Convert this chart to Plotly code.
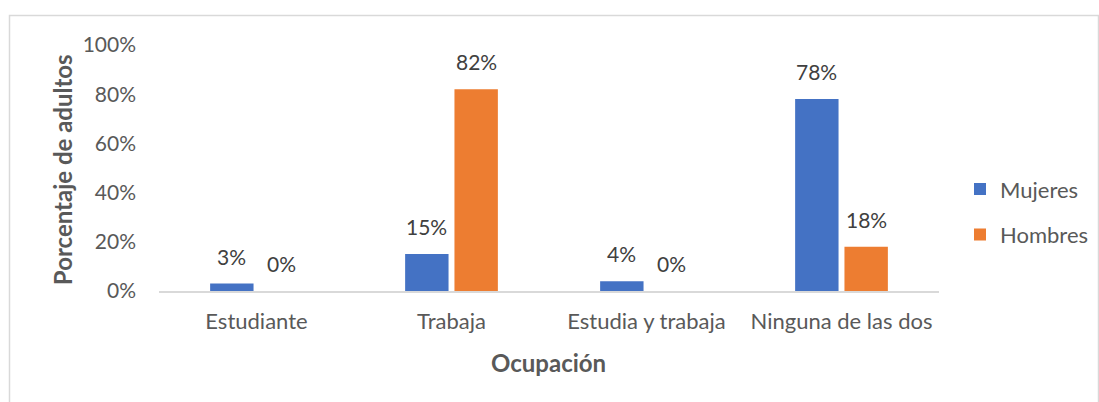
import plotly.graph_objects as go

categories = ["Estudiante", "Trabaja", "Estudia y trabaja", "Ninguna de las dos"]
mujeres = [0.03, 0.15, 0.04, 0.78]
hombres = [0.00, 0.82, 0.00, 0.18]
y_ticks = [0, 0.2, 0.4, 0.6, 0.8, 1.0]
y_tick_labels = ["0%", "20%", "40%", "60%", "80%", "100%"]

W, H = 1099, 402
L, R, T, B = 159, 939, 45, 290.7
FONT = "Lato"
FS = 22

def px_x(p):
    return (p - L) / (R - L)

def px_y(p):
    return (B - p) / (B - T)

fig = go.Figure()
fig.add_trace(go.Bar(name="Mujeres", x=categories, y=mujeres, marker_color="#4472C4",
                     marker_line_width=0, legendgroup="m"))
fig.add_trace(go.Bar(name="Hombres", x=categories, y=hombres, marker_color="#ED7D31",
                     marker_line_width=0, legendgroup="h"))

annotations = []
for series, shift in ((mujeres, -24.6), (hombres, 24.6)):
    for c, v in zip(categories, series):
        annotations.append(dict(x=c, y=v, xref="x", yref="y", text=f"{round(v*100)}%",
                                showarrow=False, xshift=shift, yanchor="bottom", yshift=13,
                                font=dict(family=FONT, size=21, color="#404040")))

annotations.append(dict(x=px_x(548.5), y=px_y(362), xref="paper", yref="paper",
                        text="<b>Ocupación</b>", showarrow=False, xanchor="center", yanchor="middle",
                        font=dict(family=FONT, size=24, color="#595959")))
annotations.append(dict(x=px_x(62), y=px_y(170), xref="paper", yref="paper",
                        text="<b>Porcentaje de adultos</b>", showarrow=False, textangle=-90,
                        xanchor="center", yanchor="middle",
                        font=dict(family=FONT, size=24, color="#595959")))

fig.update_layout(
    width=W, height=H, autosize=False,
    margin=dict(l=L, r=W - R, t=T, b=H - B, pad=0, autoexpand=False),
    paper_bgcolor="white", plot_bgcolor="white",
    barmode="group", bargap=0.494, bargroupgap=0.12,
    font=dict(family=FONT, size=FS, color="#595959"),
    showlegend=True,
    legend=dict(x=px_x(960), y=px_y(168), xanchor="left", yanchor="top",
                traceorder="grouped", tracegroupgap=14,
                font=dict(family=FONT, size=FS, color="#595959"),
                bgcolor="rgba(0,0,0,0)"),
    annotations=annotations,
    shapes=[dict(type="rect", xref="paper", yref="paper",
                 x0=px_x(9.5), x1=px_x(1098.5), y0=px_y(430), y1=px_y(15.5),
                 line=dict(color="#D9D9D9", width=1.5), fillcolor="rgba(0,0,0,0)", layer="below")],
)
fig.update_xaxes(showline=True, linecolor="#D9D9D9", linewidth=1.5, showgrid=False,
                 ticks="", ticklabelstandoff=10,
                 tickfont=dict(family=FONT, size=FS, color="#595959"))
fig.update_yaxes(range=[0, 1], tickvals=y_ticks, ticktext=y_tick_labels, showgrid=False,
                 zeroline=False, showline=False, ticks="", ticklabelstandoff=22,
                 tickfont=dict(family=FONT, size=21, color="#595959"))

css = ("document.documentElement.style.margin='0';document.documentElement.style.overflow='hidden';"
       "document.body.style.margin='0';document.body.style.overflow='hidden';")
fig.write_html("out.html", config={"displayModeBar": False, "responsive": False}, post_script=css)
